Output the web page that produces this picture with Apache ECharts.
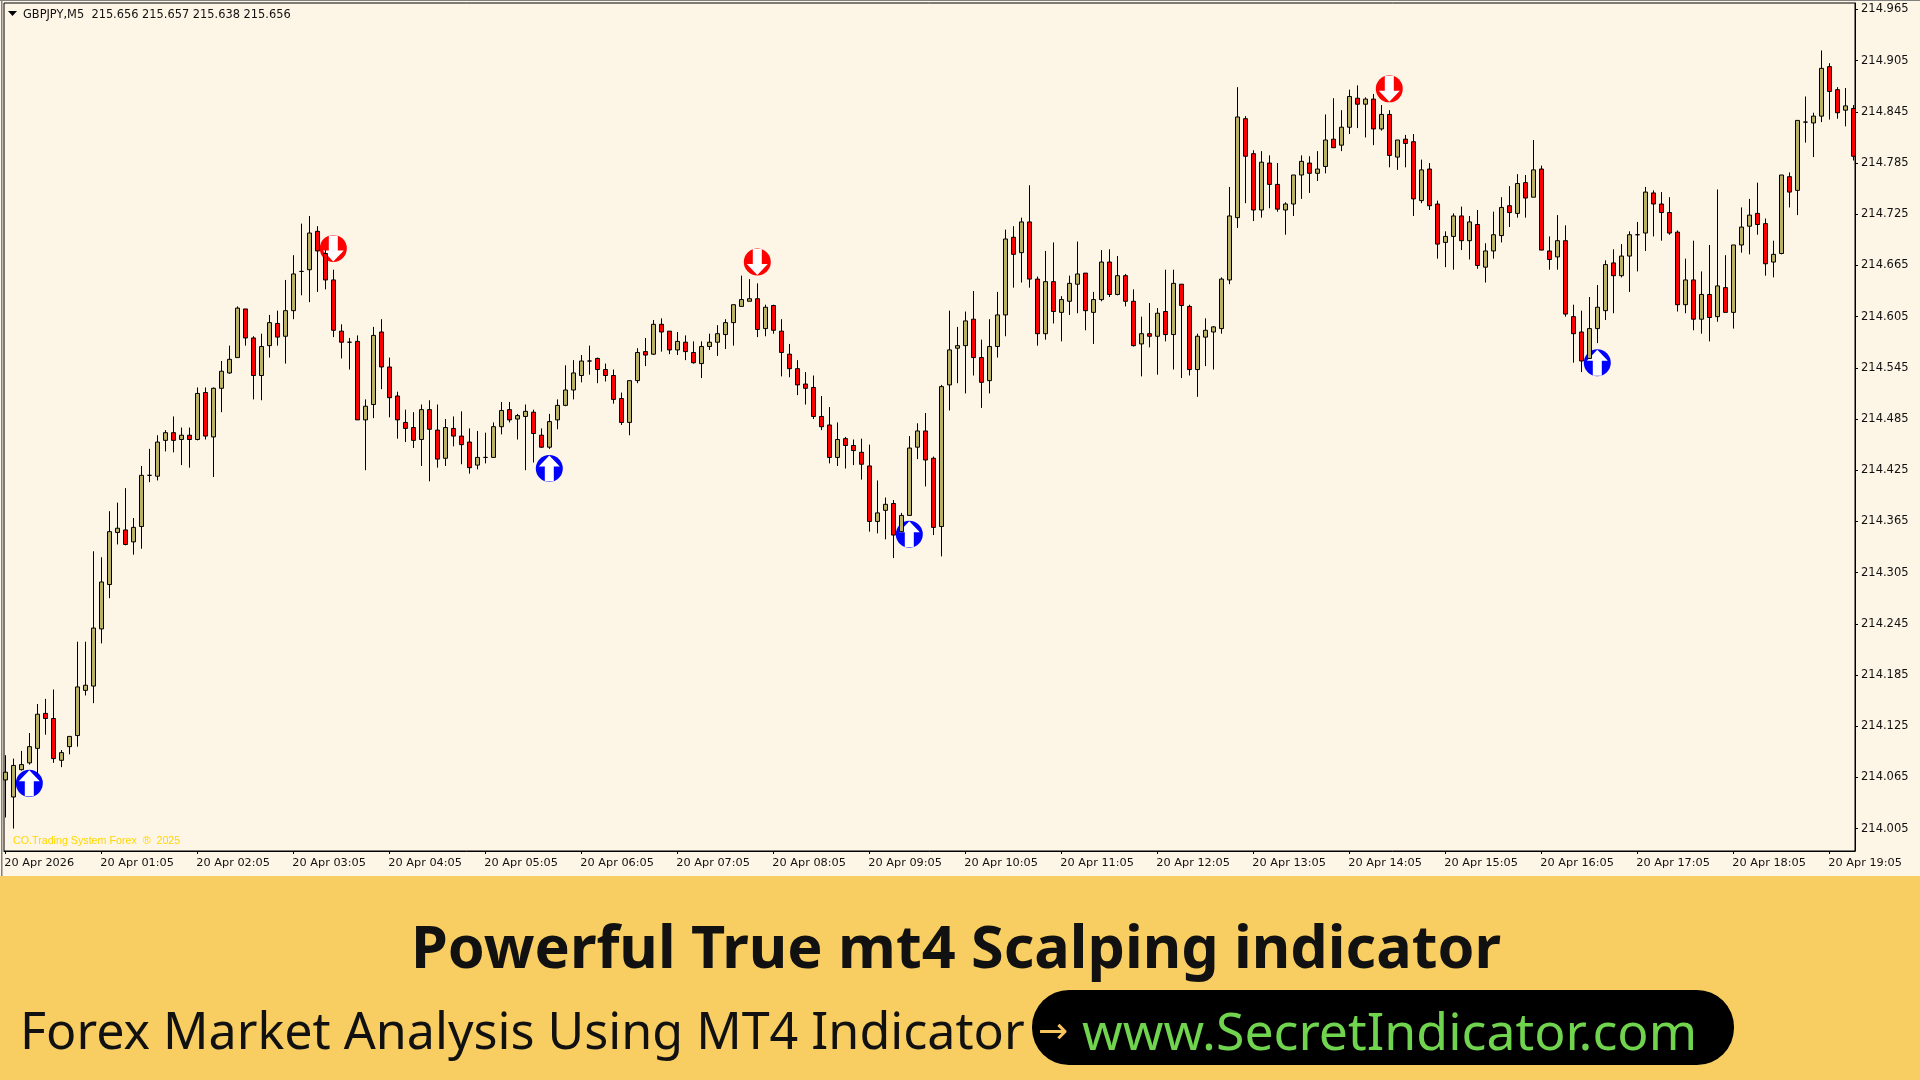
<!DOCTYPE html>
<html><head><meta charset="utf-8"><title>GBPJPY M5</title>
<style>html,body{margin:0;padding:0;background:#FDF5E6;overflow:hidden}#c{width:1920px;height:1080px}</style>
<script src="https://cdn.jsdelivr.net/npm/echarts@6/dist/echarts.min.js"></script></head>
<body><div id="c"></div><script>
const opens=[214.062,214.042,214.074,214.082,214.099,214.140,214.134,214.085,214.101,214.114,
214.167,214.172,214.239,214.291,214.352,214.355,214.341,214.359,214.419,214.418,
214.460,214.469,214.461,214.466,214.461,214.516,214.464,214.521,214.539,214.557,
214.614,214.580,214.536,214.571,214.597,214.582,214.612,214.658,214.660,214.705,
214.679,214.648,214.588,214.575,214.576,214.484,214.502,214.587,214.546,214.512,
214.481,214.475,214.461,214.496,214.472,214.439,214.474,214.465,214.458,214.431,
214.440,214.440,214.476,214.496,214.485,214.488,214.493,214.466,214.452,214.484,
214.501,214.519,214.536,214.553,214.556,214.543,214.536,214.509,214.481,214.530,
214.564,214.561,214.596,214.588,214.566,214.575,214.563,214.550,214.570,214.575,
214.584,214.598,214.617,214.623,214.626,214.591,214.618,214.588,214.561,214.544,
214.526,214.522,214.488,214.478,214.440,214.462,214.454,214.446,214.430,214.365,
214.378,214.386,214.353,214.372,214.452,214.471,214.439,214.359,214.525,214.568,
214.571,214.602,214.557,214.530,214.570,214.607,214.698,214.680,214.716,214.649,
214.585,214.646,214.610,214.623,214.643,214.656,214.610,214.625,214.669,214.631,
214.653,214.623,214.573,214.585,214.582,214.611,214.584,214.643,214.617,214.543,
214.581,214.587,214.591,214.648,214.721,214.837,214.796,214.730,214.785,214.760,
214.730,214.737,214.771,214.785,214.773,214.781,214.813,214.806,214.827,214.861,
214.854,214.860,214.825,214.842,214.792,214.813,214.810,214.741,214.778,214.737,
214.692,214.699,214.723,214.694,214.713,214.663,214.682,214.700,214.735,214.726,
214.762,214.745,214.778,214.682,214.675,214.694,214.605,214.587,214.556,214.591,
214.612,214.668,214.653,214.676,214.701,214.703,214.750,214.737,214.727,214.704,
214.619,214.648,214.602,214.631,214.605,214.639,214.610,214.689,214.711,214.726,
214.714,214.669,214.679,214.769,214.753,214.833,214.832,214.840,214.898,214.871,
214.847,214.849];
const closes=[214.071,214.079,214.080,214.101,214.139,214.134,214.087,214.094,214.113,214.171,
214.173,214.240,214.294,214.353,214.357,214.338,214.358,214.419,214.419,214.458,
214.469,214.460,214.466,214.461,214.515,214.465,214.521,214.541,214.555,214.615,
214.580,214.536,214.570,214.598,214.581,214.612,214.655,214.658,214.703,214.682,
214.648,214.589,214.575,214.575,214.484,214.500,214.583,214.546,214.510,214.484,
214.474,214.460,214.496,214.473,214.438,214.475,214.465,214.455,214.428,214.440,
214.440,214.476,214.495,214.484,214.489,214.494,214.468,214.452,214.482,214.501,
214.519,214.539,214.553,214.553,214.543,214.536,214.508,214.481,214.530,214.563,
214.560,214.596,214.587,214.566,214.576,214.564,214.551,214.570,214.575,214.585,
214.598,214.619,214.625,214.626,214.590,214.616,214.589,214.563,214.544,214.525,
214.521,214.488,214.476,214.440,214.461,214.454,214.448,214.432,214.365,214.375,
214.385,214.349,214.372,214.451,214.471,214.437,214.358,214.523,214.566,214.571,
214.600,214.557,214.528,214.570,214.607,214.696,214.678,214.716,214.649,214.585,
214.646,214.611,214.625,214.644,214.655,214.612,214.625,214.669,214.631,214.653,
214.623,214.571,214.585,214.582,214.609,214.584,214.644,214.618,214.543,214.582,
214.589,214.593,214.649,214.723,214.839,214.793,214.730,214.786,214.760,214.731,
214.737,214.771,214.787,214.773,214.778,214.812,214.803,214.827,214.863,214.854,
214.860,214.825,214.842,214.794,214.812,214.808,214.743,214.777,214.735,214.690,
214.699,214.723,214.694,214.716,214.665,214.682,214.701,214.733,214.727,214.761,
214.744,214.777,214.683,214.672,214.694,214.608,214.585,214.553,214.591,214.616,
214.666,214.653,214.676,214.701,214.701,214.751,214.737,214.727,214.703,214.619,
214.648,214.602,214.631,214.604,214.641,214.610,214.689,214.710,214.724,214.713,
214.667,214.678,214.771,214.751,214.835,214.833,214.840,214.896,214.869,214.844,
214.852,214.793];
const highs=[214.091,214.087,214.096,214.117,214.151,214.157,214.168,214.097,214.113,214.224,
214.224,214.330,214.323,214.377,214.387,214.404,214.369,214.430,214.450,214.466,
214.472,214.488,214.475,214.475,214.522,214.522,214.522,214.553,214.571,214.617,
214.614,214.582,214.585,214.607,214.612,214.648,214.677,214.714,214.723,214.711,
214.683,214.660,214.596,214.580,214.583,214.508,214.593,214.602,214.557,214.517,
214.496,214.493,214.502,214.507,214.502,214.485,214.488,214.494,214.474,214.471,
214.469,214.481,214.505,214.505,214.491,214.502,214.496,214.474,214.491,214.508,
214.548,214.554,214.560,214.571,214.557,214.550,214.543,214.516,214.530,214.568,
214.580,214.601,214.603,214.588,214.587,214.583,214.576,214.576,214.585,214.595,
214.602,214.619,214.653,214.649,214.644,214.619,214.619,214.602,214.573,214.554,
214.540,214.536,214.512,214.499,214.481,214.464,214.461,214.462,214.455,214.413,
214.393,214.390,214.375,214.465,214.480,214.492,214.441,214.525,214.612,214.593,
214.611,214.635,214.578,214.602,214.634,214.707,214.711,214.721,214.759,214.652,
214.682,214.692,214.629,214.653,214.693,214.656,214.634,214.683,214.684,214.676,
214.655,214.637,214.605,214.621,214.615,214.660,214.660,214.643,214.619,214.585,
214.603,214.594,214.651,214.757,214.874,214.840,214.800,214.799,214.794,214.785,
214.739,214.771,214.794,214.793,214.799,214.842,214.861,214.847,214.871,214.876,
214.862,214.866,214.853,214.847,214.812,214.818,214.819,214.789,214.785,214.741,
214.705,214.726,214.734,214.723,214.730,214.691,214.728,214.745,214.758,214.772,
214.771,214.812,214.782,214.699,214.724,214.712,214.619,214.612,214.628,214.642,
214.671,214.684,214.690,214.705,214.716,214.757,214.753,214.751,214.745,214.706,
214.673,214.694,214.658,214.689,214.754,214.677,214.689,214.733,214.743,214.762,
214.720,214.694,214.771,214.774,214.835,214.863,214.844,214.917,214.902,214.874,
214.873,214.853];
const lows=[214.018,214.005,214.073,214.080,214.067,214.115,214.082,214.077,214.092,214.101,
214.161,214.152,214.222,214.275,214.338,214.337,214.326,214.333,214.411,214.413,
214.447,214.446,214.431,214.428,214.460,214.461,214.417,214.493,214.538,214.557,
214.571,214.508,214.507,214.557,214.571,214.550,214.602,214.630,214.622,214.634,
214.637,214.581,214.556,214.543,214.484,214.425,214.486,214.520,214.487,214.462,
214.458,214.451,214.430,214.412,214.428,214.430,214.453,214.432,214.421,214.426,
214.433,214.440,214.467,214.481,214.461,214.425,214.434,214.451,214.450,214.473,
214.500,214.508,214.528,214.537,214.527,214.529,214.503,214.478,214.466,214.527,
214.547,214.560,214.564,214.561,214.560,214.554,214.550,214.533,214.566,214.559,
214.567,214.571,214.617,214.623,214.581,214.582,214.585,214.535,214.534,214.513,
214.502,214.485,214.472,214.433,214.430,214.427,214.431,214.414,214.353,214.351,
214.344,214.322,214.353,214.372,214.438,214.406,214.349,214.324,214.495,214.527,
214.515,214.536,214.498,214.515,214.557,214.582,214.639,214.645,214.639,214.571,
214.578,214.597,214.576,214.607,214.609,214.589,214.573,214.623,214.628,214.630,
214.617,214.570,214.535,214.569,214.537,214.576,214.543,214.533,214.536,214.511,
214.547,214.543,214.585,214.643,214.709,214.738,214.717,214.721,214.732,214.728,
214.701,214.723,214.743,214.750,214.764,214.773,214.803,214.799,214.819,214.826,
214.815,214.806,214.823,214.780,214.777,214.780,214.723,214.738,214.730,214.673,
214.663,214.660,214.683,214.672,214.661,214.645,214.673,214.692,214.710,214.721,
214.721,214.745,214.683,214.660,214.660,214.605,214.551,214.540,214.556,214.574,
214.601,214.609,214.651,214.634,214.658,214.682,214.699,214.694,214.701,214.611,
214.609,214.589,214.585,214.576,214.599,214.610,214.591,214.680,214.678,214.701,
214.653,214.651,214.678,214.733,214.724,214.809,214.792,214.833,214.836,214.837,
214.828,214.788];
const priceTicks=[214.965,214.905,214.845,214.785,214.725,214.665,214.605,214.545,214.485,214.425,214.365,214.305,214.245,214.185,214.125,214.065,214.005];
const timeLabels=["20 Apr 2026","20 Apr 01:05","20 Apr 02:05","20 Apr 03:05","20 Apr 04:05","20 Apr 05:05","20 Apr 06:05","20 Apr 07:05","20 Apr 08:05","20 Apr 09:05","20 Apr 10:05","20 Apr 11:05","20 Apr 12:05","20 Apr 13:05","20 Apr 14:05","20 Apr 15:05","20 Apr 16:05","20 Apr 17:05","20 Apr 18:05","20 Apr 19:05"];
const buyBars=[3,68,113,199];
const buyPrices=[214.058,214.427,214.350,214.551];
const sellBars=[41,94,173];
const sellPrices=[214.685,214.669,214.872];

const timeTicks=timeLabels.map((_,k)=>k*12);
const candles=opens.map((o,i)=>[i,o,closes[i],lows[i],highs[i]]);
const buys=buyBars.map((b,i)=>[b,buyPrices[i]]);
const sells=sellBars.map((b,i)=>[b,sellPrices[i]]);
const UP='path://M10.5 0L21 11L15 11L15 26L6 26L6 11L0 11Z';
const DOWN='path://M6 0L15 0L15 15L21 15L10.5 26L0 15L6 15Z';
const mk=(data,symbol,size,color,z)=>({type:'scatter',data,symbol,symbolSize:size,silent:true,z,itemStyle:{color,opacity:1},clip:true});
const AX='"DejaVu Sans"';
const chart=echarts.init(document.getElementById('c'));
chart.setOption({
 animation:false,backgroundColor:'#FDF5E6',
 grid:{left:4,top:3,width:1851,height:848,show:true,borderColor:'#000',borderWidth:1,backgroundColor:'transparent'},
 xAxis:{type:'value',min:-0.1625,max:231.2125,splitLine:{show:false},
  axisLine:{show:true,onZero:false,lineStyle:{color:'#000',width:1}},
  axisTick:{show:true,length:3,customValues:timeTicks,lineStyle:{color:'#000'}},
  axisLabel:{customValues:timeTicks,align:'left',margin:7,fontFamily:AX,fontSize:11.3,color:'#111',padding:[0,0,0,-1],formatter:v=>timeLabels[Math.round(v/12)]}},
 yAxis:{type:'value',position:'right',min:213.9787,max:214.9726,splitLine:{show:false},
  axisLine:{show:true,onZero:false,lineStyle:{color:'#000',width:1}},
  axisTick:{show:true,length:3,customValues:priceTicks,lineStyle:{color:'#000'}},
  axisLabel:{customValues:priceTicks,margin:6,fontFamily:AX,fontSize:11.5,color:'#111',padding:[5,0,0,0],formatter:v=>v.toFixed(3)}},
 series:[
  mk(buys,'circle',27,'#0000FF',1),mk(buys,UP,[21,26],'#FFFFFF',1.5),
  mk(sells,'circle',27,'#FF0000',1),mk(sells,DOWN,[21,26],'#FFFFFF',1.5),
  {type:'candlestick',data:candles,encode:{x:0,y:[1,2,3,4]},barWidth:5,z:3,silent:true,
   itemStyle:{color:'#B8B166',color0:'#FF0000',borderColor:'#000',borderColor0:'#000',borderColorDoji:'#000',borderWidth:1}}
 ],
 graphic:[
  {type:'rect',x:0,y:0,shape:{width:1920,height:1},style:{fill:'#808080'},silent:true},
  {type:'rect',x:1,y:0,shape:{width:1.5,height:876},style:{fill:'#808080'},silent:true},
  {type:'polygon',shape:{points:[[8,11],[17,11],[12.5,16]]},style:{fill:'#000'},silent:true},
  {type:'text',x:23,y:15,style:{text:'GBPJPY,M5  215.656 215.657 215.638 215.656',fontFamily:AX,fontSize:11.4,fill:'#111',textVerticalAlign:'middle'},silent:true},
  {type:'text',x:13,y:841.5,style:{text:'CO.Trading System Forex  ®  2025',fontFamily:'"Liberation Sans"',fontSize:10.7,fill:'#FFD700',textVerticalAlign:'middle'},silent:true},
  {type:'rect',x:0,y:876,shape:{width:1920,height:204},style:{fill:'#F8CE62'},silent:true},
  {type:'text',x:956,y:951,style:{text:'Powerful True mt4 Scalping indicator',fontFamily:'"Noto Sans"',fontWeight:'bold',fontSize:59.3,fill:'#111',textAlign:'center',textVerticalAlign:'middle'},silent:true},
  {type:'text',x:20,y:1035,style:{text:'Forex Market Analysis Using MT4 Indicator',fontFamily:'"Noto Sans"',fontSize:50.2,fill:'#111',textVerticalAlign:'middle'},silent:true},
  {type:'rect',x:1032,y:990,shape:{width:702,height:75,r:37},style:{fill:'#000'},silent:true},
  {type:'text',x:1038,y:1034,style:{text:'→',fontFamily:AX,fontSize:36,fill:'#F8C45E',textVerticalAlign:'middle'},silent:true},
  {type:'text',x:1082,y:1035,style:{text:'www.SecretIndicator.com',fontFamily:'"Noto Sans"',fontSize:51.8,fill:'#70D44F',textVerticalAlign:'middle'},silent:true}
 ]
});
</script></body></html>
